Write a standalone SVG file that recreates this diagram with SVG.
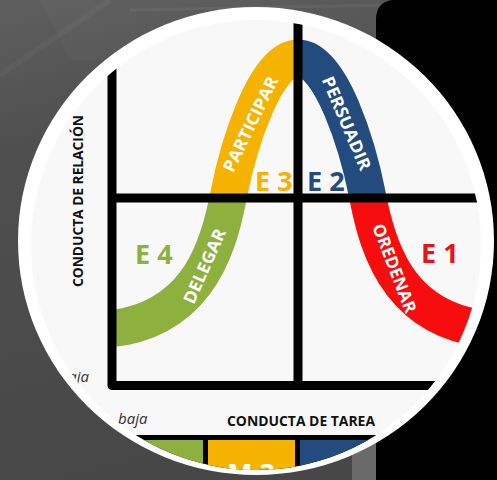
<svg xmlns="http://www.w3.org/2000/svg" width="497" height="480" viewBox="0 0 497 480">
<defs>
  <linearGradient id="bg" x1="0" y1="0" x2="0.25" y2="1">
    <stop offset="0" stop-color="#5f5f5f"/>
    <stop offset="0.3" stop-color="#4f4f4f"/>
    <stop offset="1" stop-color="#474747"/>
  </linearGradient>
  <clipPath id="inner"><circle cx="256" cy="245" r="225"/></clipPath>
  <clipPath id="q-tl"><rect x="112" y="0" width="186" height="198"/></clipPath>
  <clipPath id="q-tr"><rect x="298" y="0" width="200" height="198"/></clipPath>
  <clipPath id="q-bl"><rect x="112" y="198" width="186" height="200"/></clipPath>
  <clipPath id="q-br"><rect x="298" y="198" width="200" height="200"/></clipPath>
  <path id="curve" d="M 90,330 C 195,330 218,250 228,198 C 238,146 265,58 298,58 C 331,58 358,146 368,198 C 378,250 401,330 506,330"/>
</defs>
<style>
  .band{fill:none;stroke-width:37}
  .axis{fill:none;stroke:#000;stroke-width:9;stroke-linejoin:round;stroke-linecap:butt}
  .lbl{font-family:"Open Sans","Liberation Sans",sans-serif;font-weight:700}
  .stage{font-size:17px;fill:#ffffff}
  .e{font-size:27px}
  .axt{font-size:14px;fill:#111}
  .low{font-family:"Open Sans","Liberation Sans",sans-serif;font-style:italic;font-size:15px;fill:#333}
</style>

<g id="background">
  <rect x="0" y="0" width="497" height="480" fill="url(#bg)"/>
  <path d="M40,0 L380,0 L420,60 L70,60 Z" fill="#ffffff" opacity="0.025"/>
  <path d="M130,10 L390,5" stroke="#ffffff" stroke-opacity="0.05" stroke-width="3"/>
  <path d="M0,75 L110,0" stroke="#ffffff" stroke-opacity="0.03" stroke-width="6"/>
  <path d="M352,440 L378,440 L378,480 L352,480 Z" fill="#6a6a6a"/>
  <path d="M392,0 L497,0 L497,480 L376,480 L376,18 Q377,2 392,0 Z" fill="#000000"/>
</g>

<g id="frame">
  <ellipse cx="256" cy="241" rx="238" ry="234" fill="#ffffff"/>
  <circle cx="256" cy="245" r="225" fill="#f8f8f8"/>
</g>

<g clip-path="url(#inner)">
  <g id="style-bands">
    <g id="participar"><use href="#curve" class="band" stroke="#f5b300" clip-path="url(#q-tl)"/></g>
    <g id="persuadir"><use href="#curve" class="band" stroke="#234b7e" clip-path="url(#q-tr)"/></g>
    <g id="delegar"><use href="#curve" class="band" stroke="#8db03f" clip-path="url(#q-bl)"/></g>
    <g id="ordenar"><use href="#curve" class="band" stroke="#f70d0d" clip-path="url(#q-br)"/></g>
  </g>

  <g id="connectors">
    <path class="axis" d="M112,40 V385.5 H490"/>
    <path class="axis" d="M112,198 H490"/>
    <path class="axis" stroke-width="8" d="M298,10 V385"/>
  </g>

  <g id="maturity-boxes">
    <rect x="90" y="435" width="400" height="60" fill="#000"/>
    <rect x="100" y="440" width="103" height="55" fill="#8db03f"/>
    <rect x="208" y="440" width="87" height="55" fill="#f5b300"/>
    <rect x="300" y="440" width="190" height="55" fill="#234b7e"/>
    <text class="lbl e" x="251" y="483" text-anchor="middle" fill="#ffffff">M 3</text>
  </g>

  <g id="labels">
    <text class="lbl stage" transform="translate(250,124) rotate(-64)" text-anchor="middle" dominant-baseline="central" textLength="104" lengthAdjust="spacingAndGlyphs">PARTICIPAR</text>
    <text class="lbl stage" transform="translate(347,123) rotate(67)" text-anchor="middle" dominant-baseline="central" textLength="100" lengthAdjust="spacingAndGlyphs">PERSUADIR</text>
    <text class="lbl stage" transform="translate(395,268) rotate(69)" text-anchor="middle" dominant-baseline="central" textLength="94" lengthAdjust="spacingAndGlyphs">OREDENAR</text>
    <text class="lbl stage" transform="translate(204,266) rotate(-66)" text-anchor="middle" dominant-baseline="central" textLength="80" lengthAdjust="spacingAndGlyphs">DELEGAR</text>

    <text class="lbl e" x="255" y="191" fill="#f5b300">E 3</text>
    <text class="lbl e" x="307" y="191" fill="#234b7e">E 2</text>
    <text class="lbl e" x="135" y="264" fill="#8db03f">E 4</text>
    <text class="lbl e" x="421" y="263" fill="#e3141b">E 1</text>

    <text class="lbl axt" transform="translate(83,201) rotate(-90)" text-anchor="middle" textLength="172" lengthAdjust="spacingAndGlyphs">CONDUCTA DE RELACIÓN</text>
    <text class="lbl axt" x="227" y="426" font-size="15" textLength="148" lengthAdjust="spacingAndGlyphs">CONDUCTA DE TAREA</text>
    <text class="low" x="118" y="424">baja</text>
    <text class="low" x="89" y="382" text-anchor="end">baja</text>
  </g>
</g>
</svg>
